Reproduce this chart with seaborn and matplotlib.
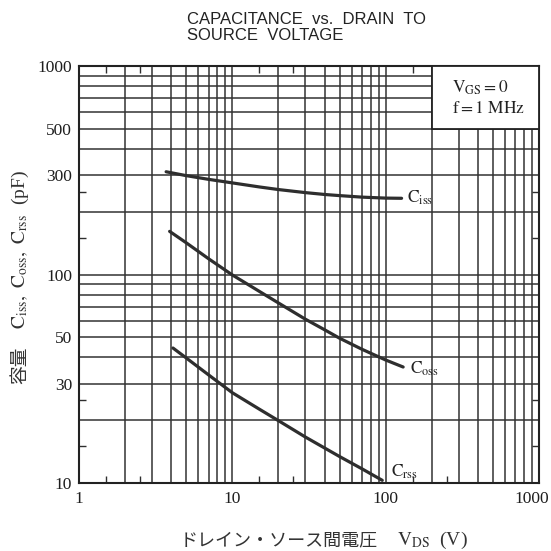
import matplotlib
matplotlib.use("Agg")
import numpy as np
import pandas as pd
import seaborn as sns
import matplotlib.pyplot as plt
import matplotlib.transforms as mtransforms
from matplotlib.ticker import NullFormatter
from matplotlib.patches import Rectangle

# ---- data ----
ciss_v = [3.7, 5, 7, 10, 15, 20, 30, 40, 50, 70, 100, 127]
ciss_c = [311, 298, 286, 275, 263, 255.5, 247, 242, 239, 235, 232.5, 232]

coss_v = [3.9, 5, 7, 10, 15, 20, 30, 40, 50, 70, 100, 130]
coss_c = [161, 142, 119, 99.5, 83, 73, 61, 54.3, 49.5, 43.8, 38.9, 36]

crss_v = [4.1, 5, 7, 10, 15, 20, 30, 50, 70, 95]
crss_c = [44.4, 39.8, 33, 27.1, 22.6, 19.9, 16.6, 13.4, 11.7, 10.3]

series_names = ["Ciss", "Coss", "Crss"]
series_labels = [r"$\mathrm{C_{iss}}$", r"$\mathrm{C_{oss}}$", r"$\mathrm{C_{rss}}$"]

x_grid = [k * 10 ** e for e in range(0, 3) for k in range(1, 10)] + [1000]
y_grid = [k * 10 ** e for e in range(1, 3) for k in range(1, 10)] + [1000]
x_ticklabels = {1: "1", 10: "10", 100: "100", 1000: "1000"}
y_ticklabels = {10: "10", 30: "30", 50: "50", 100: "100", 300: "300", 500: "500", 1000: "1000"}
x_minor = [1.5, 2.5, 15, 25, 150, 250]
y_minor = [15, 25, 150, 250]

title_lines = ["CAPACITANCE  vs.  DRAIN  TO", "SOURCE  VOLTAGE"]
xlabel_jp = "ドレイン・ソース間電圧"
xlabel_sym = r"$\mathrm{V_{DS}}$  (V)"
ylabel_jp = "容量"
ylabel_sym = r"$\mathrm{C_{iss},\ C_{oss},\ C_{rss}}$  (pF)"
cond_lines = [r"$\mathrm{V_{GS}=0}$", r"$\mathrm{f=1\ MHz}$"]

df = pd.concat([
    pd.DataFrame({"V": v, "C": c, "series": n})
    for v, c, n in zip([ciss_v, coss_v, crss_v], [ciss_c, coss_c, crss_c], series_names)
], ignore_index=True)

# ---- style ----
sns.set_style("white")
plt.rcParams["font.family"] = ["Liberation Serif", "Noto Sans CJK JP", "DejaVu Sans"]
plt.rcParams["mathtext.fontset"] = "stix"

ink = "#2e2e2e"
W = H = 551
fig = plt.figure(figsize=(5.51, 5.51), dpi=100)
ax = fig.add_axes([79 / W, 1 - 483 / H, 460 / W, 417 / H])

sns.lineplot(data=df, x="V", y="C", hue="series",
             palette={n: ink for n in series_names},
             linewidth=2.3, legend=False, ax=ax, estimator=None, zorder=4)

ax.set_xscale("log")
ax.set_yscale("log")
ax.set_xlim(1, 1000)
ax.set_ylim(10, 1000)

ax.set_xticks(x_grid)
ax.set_xticklabels([x_ticklabels.get(v, "") for v in x_grid])
ax.set_yticks(y_grid)
ax.set_yticklabels([y_ticklabels.get(v, "") for v in y_grid])
ax.set_xticks(x_minor, minor=True)
ax.set_yticks(y_minor, minor=True)
ax.xaxis.set_minor_formatter(NullFormatter())
ax.yaxis.set_minor_formatter(NullFormatter())
ax.set_xlabel("")
ax.set_ylabel("")

ax.grid(True, which="major", color="#333333", linewidth=1.1)
ax.tick_params(which="major", length=0, labelsize=12.5, colors="#1e1e1e")
ax.tick_params(axis="x", which="major", pad=6)
ax.tick_params(axis="y", which="major", pad=5)
ax.tick_params(which="minor", direction="in", length=5, width=1.0,
               top=True, right=True, bottom=True, left=True, color=ink)
for s in ax.spines.values():
    s.set_linewidth(1.5)
    s.set_color("#222")
    s.set_visible(True)

# shift the "1000" x label slightly left, like the reference
lbls = ax.get_xticklabels()
lbls[-1].set_transform(lbls[-1].get_transform() +
                       mtransforms.ScaledTranslation(-7 / 100, 0, fig.dpi_scale_trans))

# condition box (covers the grid in the top-right corner)
ax.add_patch(Rectangle((200, 500), 800, 500, facecolor="white", edgecolor="#222",
                       linewidth=1.3, zorder=3))
ax.text((452 - 79) / 460, (483 - 88) / 417, cond_lines[0], transform=ax.transAxes,
        fontsize=12.5, ha="left", va="center", color="#222", zorder=5)
ax.text((452 - 79) / 460, (483 - 109) / 417, cond_lines[1], transform=ax.transAxes,
        fontsize=12.5, ha="left", va="center", color="#222", zorder=5)

# curve labels
offsets = [(3.8, 0), (5, -1.5), (6.5, 6)]
for v, c, lab, off in zip([ciss_v, coss_v, crss_v], [ciss_c, coss_c, crss_c], series_labels, offsets):
    ax.annotate(lab, xy=(v[-1], c[-1]), xytext=off, textcoords="offset points",
                fontsize=12.5, ha="left", va="center", color="#222", zorder=5)

# title
fig.text(187 / W, 1 - 27.5 / H, "\n".join(title_lines), ha="left", va="center",
         fontsize=12.0, family=["Liberation Sans", "DejaVu Sans"], color="#222",
         linespacing=1.1)

# x label
fig.text(180 / W, 1 - 540 / H, xlabel_jp, ha="left", va="center", fontsize=13.0,
         family=["Noto Sans CJK JP", "DejaVu Sans"], color="#333")
fig.text(397 / W, 1 - 540 / H, xlabel_sym, ha="left", va="center", fontsize=14,
         color="#333")

# y label
fig.text(20 / W, 1 - 365 / H, ylabel_jp, ha="center", va="center", rotation=90,
         fontsize=13.5, family=["Noto Sans CJK JP", "DejaVu Sans"], color="#333")
fig.text(20 / W, 1 - 249 / H, ylabel_sym, ha="center", va="center", rotation=90,
         fontsize=14, color="#333")

fig.savefig("out.png", dpi=100)
